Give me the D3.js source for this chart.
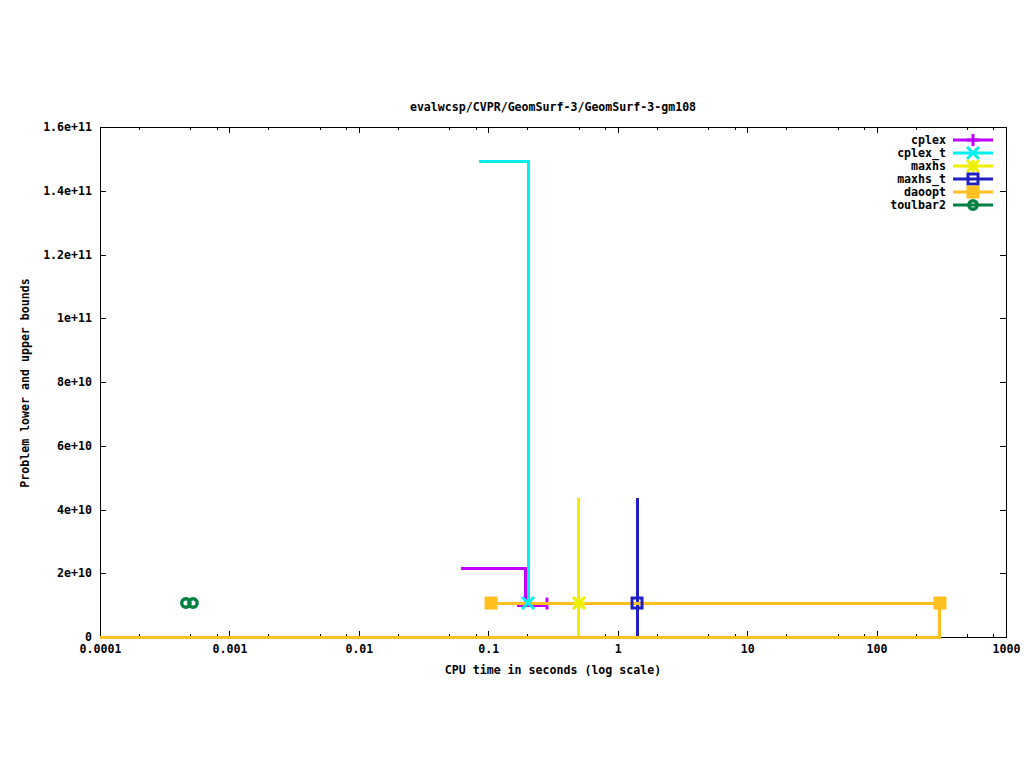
<!DOCTYPE html>
<html><head><meta charset="utf-8">
<script src="https://cdn.jsdelivr.net/npm/d3@7"></script>
<style>
body{margin:0;background:#fff;}
svg{display:block;}
text{font-family:"DejaVu Sans Mono","Liberation Mono",monospace;font-weight:bold;font-size:11.6px;fill:#000;}
</style></head>
<body>
<script>
// ---- data ----
const title = "evalwcsp/CVPR/GeomSurf-3/GeomSurf-3-gm108";
const xLabel = "CPU time in seconds (log scale)";
const yLabel = "Problem lower and upper bounds";
const xTicks = [0.0001, 0.001, 0.01, 0.1, 1, 10, 100, 1000];
const xTickLabels = ["0.0001", "0.001", "0.01", "0.1", "1", "10", "100", "1000"];
const xMinorMult = [2, 5, 8];
const yTicks = [0, 2e10, 4e10, 6e10, 8e10, 1e11, 1.2e11, 1.4e11, 1.6e11];
const yTickLabels = ["0", "2e+10", "4e+10", "6e+10", "8e+10", "1e+11", "1.2e+11", "1.4e+11", "1.6e+11"];
const seriesNames = ["cplex", "cplex_t", "maxhs", "maxhs_t", "daoopt", "toulbar2"];
const seriesColors = ["#c000ff", "#00eeee", "#eeee00", "#2020c0", "#ffc020", "#008040"];
const seriesMarkers = ["plus", "cross", "star", "boxopen", "boxfill", "circle"];
// line pieces per series: arrays of [time, bound]
const cplexLines = [[[0.0615, 2.16e10], [0.195, 2.16e10], [0.195, 1.0e10]], [[0.168, 1.0e10], [0.284, 1.0e10]]];
const cplexTLines = [[[0.0847, 1.493e11], [0.203, 1.493e11], [0.203, 1.066e10]]];
const maxhsLines = [[[0.502, 4.36e10], [0.502, 0]]];
const maxhsTLines = [[[1.41, 4.36e10], [1.41, 0]]];
const daooptLines = [[[0.105, 1.066e10], [309, 1.066e10]], [[0.0001, 0], [309, 0], [309, 1.066e10]]];
const toulbar2Lines = [];
// final points per series
const cplexPoints = [[0.284, 1.05e10]];
const cplexTPoints = [[0.203, 1.066e10]];
const maxhsPoints = [[0.502, 1.066e10]];
const maxhsTPoints = [[1.41, 1.066e10]];
const daooptPoints = [[0.105, 1.066e10], [309, 1.066e10]];
const toulbar2Points = [[0.000461, 1.066e10], [0.000523, 1.066e10]];

const allLines = [cplexLines, cplexTLines, maxhsLines, maxhsTLines, daooptLines, toulbar2Lines];
const allPoints = [cplexPoints, cplexTPoints, maxhsPoints, maxhsTPoints, daooptPoints, toulbar2Points];

// ---- layout ----
const W = 1024, H = 768;
const L = 100, R = 1006, T = 127, B = 637;
const svg = d3.select("body").append("svg").attr("width", W).attr("height", H);
const x = d3.scaleLog().domain([1e-4, 1000]).range([L, R]);
const y = d3.scaleLinear().domain([0, 1.6e11]).range([B, T]);

const minorVals = [];
xTicks.slice(0, -1).forEach(d => xMinorMult.forEach(m => minorVals.push(d * m)));

function styleAxis(g) {
  g.select(".domain").remove();
  g.selectAll(".tick line").attr("stroke", "#000").attr("stroke-width", 1).attr("shape-rendering", "crispEdges");
}
// bottom axis
svg.append("g").attr("transform", `translate(0,${B})`)
  .call(d3.axisBottom(x).tickValues(xTicks).tickFormat((d, i) => xTickLabels[i]).tickSize(-6).tickPadding(8))
  .call(styleAxis);
svg.append("g").attr("transform", `translate(0,${B})`)
  .call(d3.axisBottom(x).tickValues(minorVals).tickFormat("").tickSize(-3)).call(styleAxis);
// top axis
svg.append("g").attr("transform", `translate(0,${T})`)
  .call(d3.axisTop(x).tickValues(xTicks).tickFormat("").tickSize(-6)).call(styleAxis);
svg.append("g").attr("transform", `translate(0,${T})`)
  .call(d3.axisTop(x).tickValues(minorVals).tickFormat("").tickSize(-3)).call(styleAxis);
// left axis
svg.append("g").attr("transform", `translate(${L},0)`)
  .call(d3.axisLeft(y).tickValues(yTicks).tickFormat((d, i) => yTickLabels[i]).tickSize(-6).tickPadding(8))
  .call(styleAxis);
// right axis
svg.append("g").attr("transform", `translate(${R},0)`)
  .call(d3.axisRight(y).tickValues(yTicks).tickFormat("").tickSize(-6)).call(styleAxis);
svg.selectAll("g text").attr("font-size", null).attr("font-family", null);

// border
svg.append("rect").attr("x", L).attr("y", T).attr("width", R - L).attr("height", B - T)
  .attr("fill", "none").attr("stroke", "#000").attr("stroke-width", 1).attr("shape-rendering", "crispEdges");

// titles
svg.append("text").attr("x", 553).attr("y", 111).attr("text-anchor", "middle").text(title);
svg.append("text").attr("x", 553).attr("y", 674).attr("text-anchor", "middle").text(xLabel);
svg.append("text").attr("transform", "translate(29,383) rotate(-90)").attr("text-anchor", "middle").text(yLabel);

const line = d3.line().x(d => x(d[0])).y(d => y(d[1]));
const plot = svg.append("g");

function marker(g, type, cx, cy, color) {
  const s = 6;
  const ln = (x1, y1, x2, y2) => g.append("line").attr("x1", x1).attr("y1", y1).attr("x2", x2).attr("y2", y2)
    .attr("stroke", color).attr("stroke-width", 3);
  if (type === "plus") { ln(cx - s, cy, cx + s, cy); ln(cx, cy - s, cx, cy + s); }
  else if (type === "cross") { ln(cx - s, cy - s, cx + s, cy + s); ln(cx - s, cy + s, cx + s, cy - s); }
  else if (type === "star") { ln(cx - s, cy - s, cx + s, cy + s); ln(cx - s, cy + s, cx + s, cy - s); ln(cx - s, cy, cx + s, cy); ln(cx, cy - s, cx, cy + s); }
  else if (type === "boxopen") {
    g.append("rect").attr("x", cx - 5).attr("y", cy - 5).attr("width", 10).attr("height", 10)
      .attr("fill", "none").attr("stroke", color).attr("stroke-width", 3);
  }
  else if (type === "boxfill") {
    g.append("rect").attr("x", cx - 6.5).attr("y", cy - 6.5).attr("width", 13).attr("height", 13).attr("fill", color);
  }
  else if (type === "circle") {
    g.append("circle").attr("cx", cx).attr("cy", cy).attr("r", 4.2)
      .attr("fill", "none").attr("stroke", color).attr("stroke-width", 3.4);
  }
}
function drawLines(i) {
  allLines[i].forEach(p => {
    plot.append("path").attr("d", line(p)).attr("fill", "none")
      .attr("stroke", seriesColors[i]).attr("stroke-width", 3).attr("shape-rendering", "crispEdges");
  });
}
function drawPoints(i) {
  allPoints[i].forEach(p => marker(plot, seriesMarkers[i], x(p[0]), y(p[1]), seriesColors[i]));
}
// drawing order: cplex drawn first (its marker is partly covered by the daoopt line)
drawLines(0); drawPoints(0);
[1, 2, 3, 4, 5].forEach(drawLines);
[1, 2, 3, 4, 5].forEach(drawPoints);

// legend
const leg = svg.append("g");
seriesNames.forEach((n, i) => {
  const ly = 140 + i * 13;
  leg.append("text").attr("x", 946).attr("y", ly).attr("dy", "0.35em").attr("text-anchor", "end").text(n);
  leg.append("line").attr("x1", 953).attr("x2", 993).attr("y1", ly).attr("y2", ly)
    .attr("stroke", seriesColors[i]).attr("stroke-width", 3);
  marker(leg, seriesMarkers[i], 973, ly, seriesColors[i]);
});
</script>
</body></html>
